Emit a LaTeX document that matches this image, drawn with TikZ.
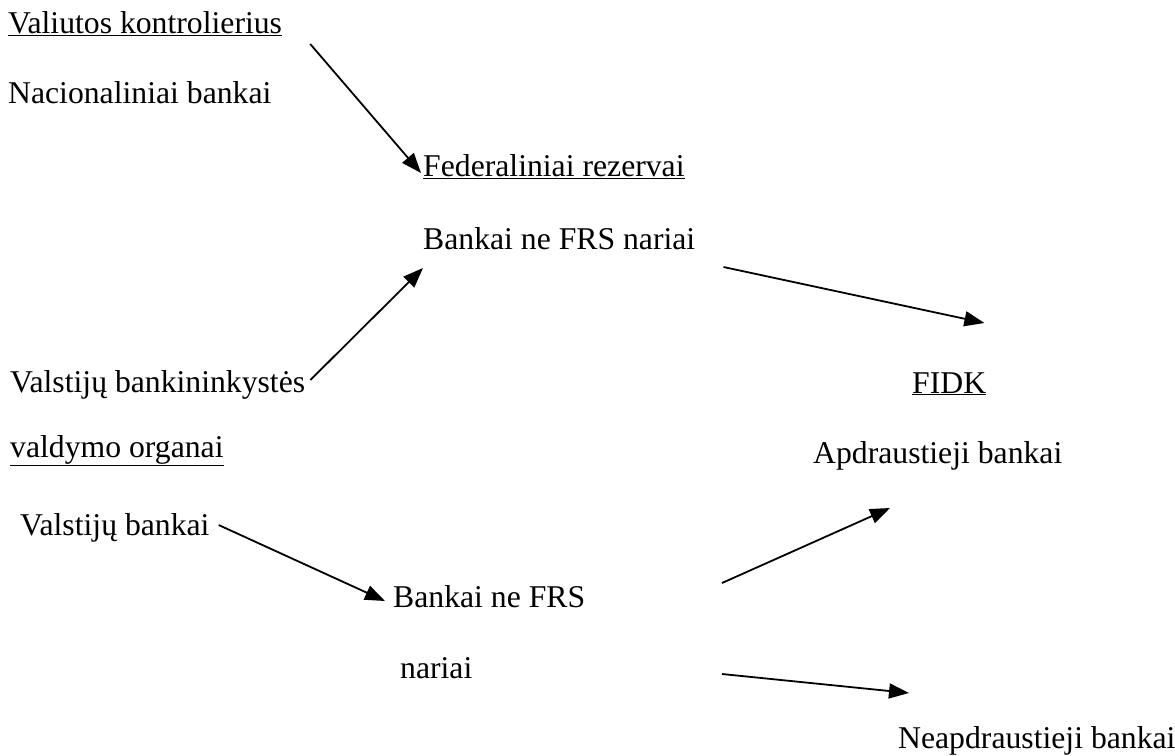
\documentclass[tikz,border=0pt]{standalone}
\usepackage{fontspec}
\setmainfont{Liberation Serif}
\usetikzlibrary{arrows.meta}

\begin{document}
\begin{tikzpicture}[x=1pt, y=-1pt,
	lbl/.style={anchor=base west, inner sep=0pt, font=\fontsize{31.7}{38}\selectfont},
	arr/.style={-{Triangle[length=20pt, width=15pt]}, line width=1.8pt}]
	\useasboundingbox (0,0) rectangle (1175,755);

	\node[lbl] (vk) at (8,33) {\underline{Valiutos kontrolierius}};
	\node[lbl] (nb) at (8,103) {Nacionaliniai bankai};
	\node[lbl] (fr) at (423,176) {\underline{Federaliniai rezervai}};
	\node[lbl] (bn1) at (423,249) {Bankai ne FRS nariai};
	\node[lbl] (vbk) at (10,392) {Valstijų bankininkystės};
	\node[lbl] (vo) at (10,457) {\underline{valdymo organai}};
	\node[lbl] (vbank) at (20,535) {Valstijų bankai};
	\node[lbl] (bn2) at (393,607) {Bankai ne FRS};
	\node[lbl] (bn2b) at (400,678) {nariai};
	\node[lbl] (fidk) at (912,393) {\underline{FIDK}};
	\node[lbl] (apd) at (813,463) {Apdraustieji bankai};
	\node[lbl] (neap) at (898,748) {Neapdraustieji bankai};

	\draw[arr] ([xshift=28pt, yshift=-11pt]vk.base east) -- ([xshift=-2pt, yshift=3pt]fr.base west);
	\draw[arr] ([xshift=5pt, yshift=12pt]vbk.base east) -- ([yshift=-19pt]bn1.base west);
	\draw[arr] ([xshift=28pt, yshift=-18pt]bn1.base east) -- ([xshift=-2pt, yshift=70pt]fidk.base east);
	\draw[arr] ([xshift=9pt, yshift=10pt]vbank.base east) -- ([xshift=-8pt, yshift=6pt]bn2.base west);
	\draw[arr] ([xshift=-91pt, yshift=-120pt]apd.base west) -- ([xshift=77pt, yshift=-45pt]apd.base west);
	\draw[arr] ([xshift=-176pt, yshift=74pt]neap.base west) -- ([xshift=11pt, yshift=55pt]neap.base west);
\end{tikzpicture}
\end{document}
